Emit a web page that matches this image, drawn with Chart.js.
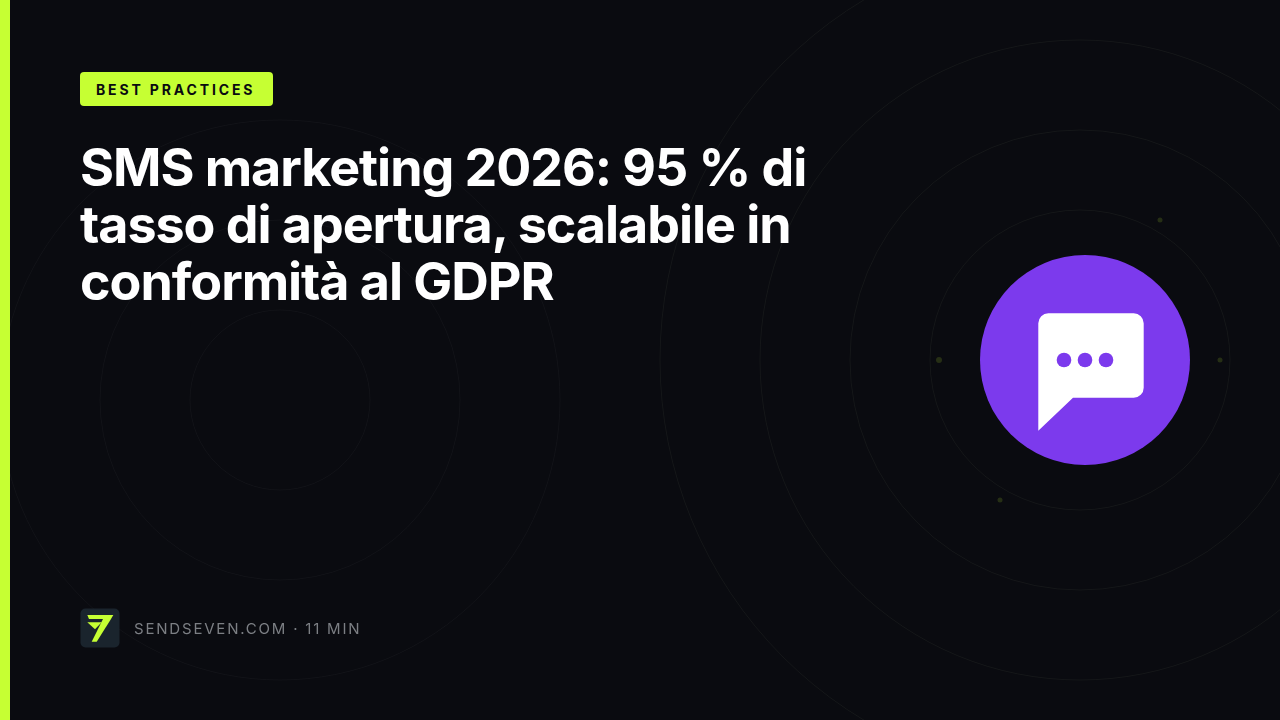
<!DOCTYPE html>
<html lang="it">
<head>
<meta charset="utf-8">
<title>SMS marketing 2026</title>
<script src="https://cdn.jsdelivr.net/npm/chart.js@4/dist/chart.umd.min.js"></script>
<style>
  html, body { margin: 0; padding: 0; background: #0a0b10; }
  #stage { position: relative; width: 1280px; height: 720px; overflow: hidden; background: #0a0b10; font-family: Inter, sans-serif; }
  #chart { position: absolute; left: 0; top: 0; }
  .bar { position: absolute; left: 0; top: 0; width: 10px; height: 720px; background: #c6ff33; }
  .pill { position: absolute; left: 80px; top: 72px; width: 177px; height: 34px; padding-left: 16px; line-height: 35px; border-radius: 4px; background: #c6ff33; color: #0a0b10; font-size: 14px; font-weight: 700; letter-spacing: 2.85px; white-space: nowrap; }
  h1 { position: absolute; left: 80px; top: 139px; margin: 0; width: 800px; color: #fff; font-size: 52px; line-height: 57.2px; font-weight: 700; letter-spacing: -1.04px; }
  .logo { position: absolute; left: 80px; top: 608px; }
  .meta { position: absolute; left: 134px; top: 620px; color: #7c7f84; font-size: 15px; line-height: 18px; letter-spacing: 1.8px; white-space: nowrap; }
  .icon { position: absolute; left: 1030px; top: 305px; }
</style>
</head>
<body>
<div id="stage">
  <canvas id="chart" width="1280" height="720"></canvas>
  <div class="bar"></div>
  <div class="pill">BEST PRACTICES</div>
  <h1>SMS marketing 2026: 95 % di<br>tasso di apertura, scalabile in<br>conformità al GDPR</h1>
  <svg class="logo" width="40" height="40" viewBox="0 0 40 40">
    <rect x="0.5" y="0.5" width="39" height="39" rx="5" fill="#1a242d"/>
    <path d="M7.3 7H33.3L31 11H9Z" fill="#c6ff33"/>
    <path d="M7.3 14.3H21.7L15 21.3Z" fill="#c6ff33"/>
    <path d="M23 11H31L16.7 33.7H11.7Z" fill="#c6ff33"/>
  </svg>
  <div class="meta">SENDSEVEN.COM · 11 MIN</div>
  <svg class="icon" width="116" height="130" viewBox="0 0 116 130">
    <path d="M8.3 18.3a10 10 0 0 1 10 -10h85.4a10 10 0 0 1 10 10v64.4a10 10 0 0 1 -10 10H43L8.3 125.7Z" fill="#fff"/>
    <circle cx="34" cy="55" r="7.3" fill="#7c3aed"/>
    <circle cx="55" cy="55" r="7.3" fill="#7c3aed"/>
    <circle cx="76" cy="55" r="7.3" fill="#7c3aed"/>
  </svg>
</div>
<script>
// rings and discs of the artwork, in page pixels
const ringsRight = [
  { x: 1080, y: 360, r: 150 },
  { x: 1080, y: 360, r: 230 },
  { x: 1080, y: 360, r: 320 },
  { x: 1080, y: 360, r: 420 },
];
const ringsLeft = [
  { x: 280, y: 400, r: 90 },
  { x: 280, y: 400, r: 180 },
  { x: 280, y: 400, r: 280 },
];
const sparks = [
  { x: 939, y: 360, r: 3 },
  { x: 1220, y: 360, r: 2.5 },
  { x: 1160, y: 220, r: 2.5 },
  { x: 1000, y: 500, r: 2.5 },
];
const disc = [{ x: 1085, y: 360, r: 105 }];

new Chart(document.getElementById("chart"), {
  type: "bubble",
  data: {
    datasets: [
      { label: "disc", data: disc, backgroundColor: "#7c3aed", borderWidth: 0 },
      { label: "sparks", data: sparks, backgroundColor: "rgba(198,255,51,0.15)", borderWidth: 0 },
      { label: "right", data: ringsRight, backgroundColor: "transparent", borderColor: "rgba(230,255,190,0.05)", borderWidth: 1 },
      { label: "left", data: ringsLeft, backgroundColor: "transparent", borderColor: "rgba(255,255,255,0.035)", borderWidth: 1 },
    ],
  },
  options: {
    responsive: false,
    animation: false,
    clip: false,
    layout: { padding: 0, autoPadding: false },
    plugins: { legend: { display: false }, tooltip: { enabled: false } },
    scales: {
      x: { type: "linear", min: 0, max: 1280, display: false },
      y: { type: "linear", min: 0, max: 720, reverse: true, display: false },
    },
  },
});
</script>
</body>
</html>
